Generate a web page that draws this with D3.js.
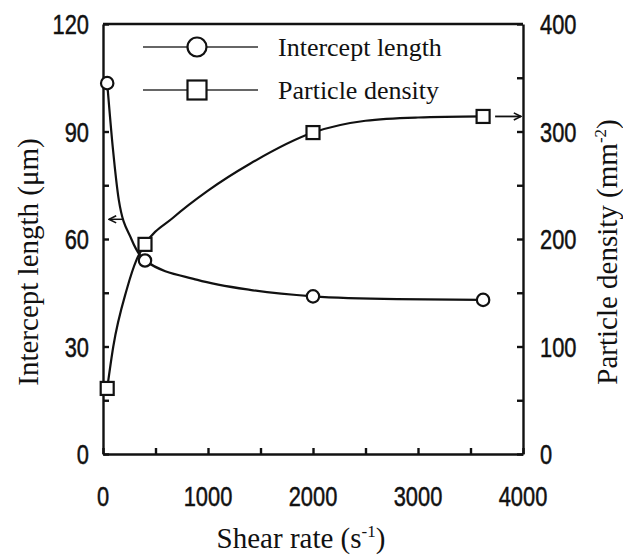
<!DOCTYPE html>
<html><head><meta charset="utf-8">
<script src="https://cdn.jsdelivr.net/npm/d3@7"></script>
<style>
body{margin:0;background:#fff;}
svg{display:block;}
.tick-label{font-family:"Liberation Sans",Arial,sans-serif;font-size:28px;fill:#111;stroke:#111;stroke-width:0.5px;}
.title{font-family:"Liberation Serif","Times New Roman",serif;font-size:29px;fill:#111;}
.legend-text{font-family:"Liberation Serif","Times New Roman",serif;font-size:26px;fill:#111;}
</style>
</head><body>
<script>
// ---- data ----
const xTickValues = [0, 1000, 2000, 3000, 4000];
const leftTickValues = [0, 30, 60, 90, 120];
const rightTickValues = [0, 100, 200, 300, 400];
const shearRate = [40, 400, 2000, 3620];
const interceptLength = [103.5, 54, 44, 43];
const particleDensity = [61, 195, 299, 314];
// traced smooth curves
const interceptCurveX = [40, 95, 150, 270, 400, 900, 1400, 2000, 2800, 3620];
const interceptCurveY = [103.5, 85, 71, 60, 54, 48.6, 45.8, 44, 43.2, 43];
const particleCurveX = [40, 98, 226, 321, 400, 670, 1000, 1400, 2000, 2500, 3000, 3620];
const particleCurveY = [61, 100, 153, 181, 195, 220, 245, 270, 299, 310, 313, 314];
const legendLabels = ["Intercept length", "Particle density"];

const W = 623, H = 555;
const m = {left: 103, right: 523, top: 24, bottom: 454};
const svg = d3.select("body").append("svg").attr("width", W).attr("height", H);

const x = d3.scaleLinear().domain([0, 4000]).range([m.left, m.right]);
const yL = d3.scaleLinear().domain([0, 120]).range([m.bottom, m.top]);
const yR = d3.scaleLinear().domain([0, 400]).range([m.bottom, m.top]);

// axes (ticks inward)
const axB = d3.axisBottom(x).tickValues(d3.range(0, 4001, 500)).tickSizeInner(-6).tickSizeOuter(0).tickFormat("");
const axL = d3.axisLeft(yL).tickValues(d3.range(0, 121, 15)).tickSizeInner(-6).tickSizeOuter(0).tickFormat("");
const axR = d3.axisRight(yR).tickValues(d3.range(0, 401, 50)).tickSizeInner(-6).tickSizeOuter(0).tickFormat("");
function styleAxis(g){ g.selectAll("path,line").attr("stroke","#111").attr("stroke-width",2.4); }
svg.append("g").attr("transform",`translate(0,${m.bottom})`).call(axB).call(styleAxis);
svg.append("g").attr("transform",`translate(${m.left},0)`).call(axL).call(styleAxis);
svg.append("g").attr("transform",`translate(${m.right},0)`).call(axR).call(styleAxis);
svg.append("line").attr("x1",m.left).attr("x2",m.right).attr("y1",m.top).attr("y2",m.top)
  .attr("stroke","#111").attr("stroke-width",2.4);

// tick labels (condensed)
const sx = 0.78;
svg.append("g").selectAll("text").data(xTickValues).join("text").attr("class","tick-label")
  .attr("transform",d=>`translate(${x(d)},506) scale(${sx},1)`).attr("text-anchor","middle").text(d=>d);
svg.append("g").selectAll("text").data(leftTickValues).join("text").attr("class","tick-label")
  .attr("transform",d=>`translate(89,${yL(d)}) scale(${sx},1)`).attr("dy","0.36em").attr("text-anchor","end").text(d=>d);
svg.append("g").selectAll("text").data(rightTickValues).join("text").attr("class","tick-label")
  .attr("transform",d=>`translate(540,${yR(d)}) scale(${sx},1)`).attr("dy","0.36em").attr("text-anchor","start").text(d=>d);

// titles
const tx = svg.append("text").attr("class","title").attr("x",301).attr("y",548).attr("text-anchor","middle");
tx.append("tspan").text("Shear rate (s");
tx.append("tspan").attr("font-size","17px").attr("dy","-11").text("-1");
tx.append("tspan").attr("dy","11").text(")");

svg.append("text").attr("class","title").attr("transform","translate(38,262) rotate(-90)")
  .attr("text-anchor","middle").text("Intercept length (\u03bcm)");

const tr = svg.append("text").attr("class","title").attr("transform","translate(617,252) rotate(-90)")
  .attr("text-anchor","middle");
tr.append("tspan").text("Particle density (mm");
tr.append("tspan").attr("font-size","17px").attr("dy","-11").text("-2");
tr.append("tspan").attr("dy","11").text(")");

// curves
const lineL = d3.line().x(d=>x(d[0])).y(d=>yL(d[1])).curve(d3.curveMonotoneX);
const lineR = d3.line().x(d=>x(d[0])).y(d=>yR(d[1])).curve(d3.curveMonotoneX);
svg.append("path").datum(d3.zip(interceptCurveX, interceptCurveY)).attr("d",lineL)
  .attr("fill","none").attr("stroke","#111").attr("stroke-width",2.2);
svg.append("path").datum(d3.zip(particleCurveX, particleCurveY)).attr("d",lineR)
  .attr("fill","none").attr("stroke","#111").attr("stroke-width",2.2);

// markers
svg.append("g").selectAll("circle").data(d3.zip(shearRate, interceptLength)).join("circle")
  .attr("cx",d=>x(d[0])).attr("cy",d=>yL(d[1])).attr("r",6.2)
  .attr("fill","#fff").attr("stroke","#111").attr("stroke-width",2.2);
svg.append("g").selectAll("rect").data(d3.zip(shearRate, particleDensity)).join("rect")
  .attr("x",d=>x(d[0])-6.5).attr("y",d=>yR(d[1])-6.5).attr("width",13).attr("height",13)
  .attr("fill","#fff").attr("stroke","#111").attr("stroke-width",2.2);

// arrows
const defs = svg.append("defs");
defs.append("marker").attr("id","ah").attr("viewBox","0 0 10 10").attr("refX",9).attr("refY",5)
  .attr("markerWidth",9).attr("markerHeight",9).attr("markerUnits","userSpaceOnUse").attr("orient","auto")
  .append("path").attr("d","M1,1 L9,5 L1,9").attr("fill","none").attr("stroke","#111").attr("stroke-width",1.8);
svg.append("line").attr("x1",x(3620)+12).attr("x2",m.right-2).attr("y1",yR(314)).attr("y2",yR(314))
  .attr("stroke","#111").attr("stroke-width",1.8).attr("marker-end","url(#ah)");
svg.append("line").attr("x1",123).attr("x2",109).attr("y1",yL(65.5)).attr("y2",yL(65.5))
  .attr("stroke","#111").attr("stroke-width",1.5).attr("marker-end","url(#ah)");

// legend
const leg = svg.append("g");
[0,1].forEach(i=>{
  const ly = i===0 ? 47 : 90;
  leg.append("line").attr("x1",143).attr("x2",258).attr("y1",ly).attr("y2",ly)
    .attr("stroke","#333").attr("stroke-width",1.4);
  if(i===0){
    leg.append("circle").attr("cx",197).attr("cy",ly).attr("r",9.5)
      .attr("fill","#fff").attr("stroke","#111").attr("stroke-width",2.2);
  } else {
    leg.append("rect").attr("x",187.5).attr("y",ly-9.5).attr("width",19).attr("height",19)
      .attr("fill","#fff").attr("stroke","#111").attr("stroke-width",2.2);
  }
  leg.append("text").attr("class","legend-text").attr("x",278).attr("y",ly+9).text(legendLabels[i]);
});
</script>
</body></html>
